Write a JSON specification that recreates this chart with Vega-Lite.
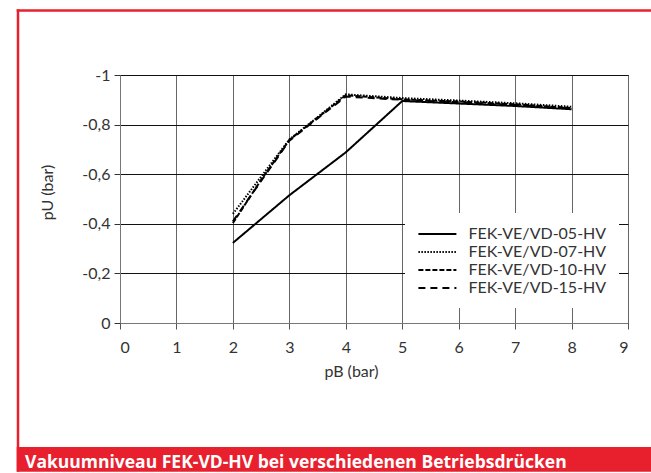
{
  "$schema": "https://vega.github.io/schema/vega-lite/v6.json",
  "width": 508,
  "height": 248,
  "autosize": {"type": "none"},
  "padding": {"left": 120, "top": 75, "right": 23, "bottom": 150},
  "background": "white",
  "config": {
    "locale": {"number": {"decimal": ",", "thousands": ".", "grouping": [3], "currency": ["", " €"], "minus": "-"}},
    "view": {"stroke": "#222", "strokeWidth": 1},
    "font": "Lato",
    "axis": {"labelFont": "Lato", "titleFont": "Lato", "labelFontSize": 16, "titleFontSize": 16, "labelColor": "#333", "titleColor": "#333", "titleFontWeight": "normal", "tickSize": 6},
    "legend": {"labelFont": "Lato"}
  },
  "datasets": {
    "curves": [
      {"series": "FEK-VE/VD-05-HV", "pB": 2, "pU": -0.323},
      {"series": "FEK-VE/VD-05-HV", "pB": 3, "pU": -0.515},
      {"series": "FEK-VE/VD-05-HV", "pB": 4, "pU": -0.688},
      {"series": "FEK-VE/VD-05-HV", "pB": 5, "pU": -0.895},
      {"series": "FEK-VE/VD-05-HV", "pB": 6, "pU": -0.885},
      {"series": "FEK-VE/VD-05-HV", "pB": 7, "pU": -0.875},
      {"series": "FEK-VE/VD-05-HV", "pB": 8, "pU": -0.862},
      {"series": "FEK-VE/VD-07-HV", "pB": 2, "pU": -0.44},
      {"series": "FEK-VE/VD-07-HV", "pB": 2.5, "pU": -0.59},
      {"series": "FEK-VE/VD-07-HV", "pB": 3, "pU": -0.74},
      {"series": "FEK-VE/VD-07-HV", "pB": 3.5, "pU": -0.83},
      {"series": "FEK-VE/VD-07-HV", "pB": 4, "pU": -0.922},
      {"series": "FEK-VE/VD-07-HV", "pB": 5, "pU": -0.907},
      {"series": "FEK-VE/VD-07-HV", "pB": 6, "pU": -0.897},
      {"series": "FEK-VE/VD-07-HV", "pB": 7, "pU": -0.886},
      {"series": "FEK-VE/VD-07-HV", "pB": 8, "pU": -0.872},
      {"series": "FEK-VE/VD-10-HV", "pB": 2, "pU": -0.403},
      {"series": "FEK-VE/VD-10-HV", "pB": 2.5, "pU": -0.577},
      {"series": "FEK-VE/VD-10-HV", "pB": 3, "pU": -0.738},
      {"series": "FEK-VE/VD-10-HV", "pB": 3.5, "pU": -0.828},
      {"series": "FEK-VE/VD-10-HV", "pB": 4, "pU": -0.918},
      {"series": "FEK-VE/VD-10-HV", "pB": 5, "pU": -0.902},
      {"series": "FEK-VE/VD-10-HV", "pB": 6, "pU": -0.893},
      {"series": "FEK-VE/VD-10-HV", "pB": 7, "pU": -0.882},
      {"series": "FEK-VE/VD-10-HV", "pB": 8, "pU": -0.867},
      {"series": "FEK-VE/VD-15-HV", "pB": 2, "pU": -0.41},
      {"series": "FEK-VE/VD-15-HV", "pB": 2.5, "pU": -0.573},
      {"series": "FEK-VE/VD-15-HV", "pB": 3, "pU": -0.735},
      {"series": "FEK-VE/VD-15-HV", "pB": 3.5, "pU": -0.825},
      {"series": "FEK-VE/VD-15-HV", "pB": 4, "pU": -0.913},
      {"series": "FEK-VE/VD-15-HV", "pB": 5, "pU": -0.9},
      {"series": "FEK-VE/VD-15-HV", "pB": 6, "pU": -0.89},
      {"series": "FEK-VE/VD-15-HV", "pB": 7, "pU": -0.879},
      {"series": "FEK-VE/VD-15-HV", "pB": 8, "pU": -0.865}
    ]
  },
  "layer": [
    {
      "data": {"name": "curves"},
      "mark": {"type": "line", "strokeWidth": 2, "color": "black", "clip": true},
      "encoding": {
        "x": {"field": "pB", "type": "quantitative", "scale": {"domain": [0, 9], "nice": false, "zero": false},
              "axis": {"values": [0,1,2,3,4,5,6,7,8,9], "format": "d", "title": "pB (bar)", "titleX": 231, "titleY": 40, "labelPadding": 10, "grid": true, "gridColor": "#666", "domainColor": "#777", "tickColor": "#555"}},
        "y": {"field": "pU", "type": "quantitative", "scale": {"domain": [0, -1], "nice": false, "zero": false},
              "axis": {"values": [0,-0.2,-0.4,-0.6,-0.8,-1], "format": ".1~f", "title": "pU (bar)", "titleX": -65, "titleY": 117, "labelPadding": 4, "grid": true, "gridColor": "#111", "domainColor": "#777", "tickColor": "#333"}},
        "strokeDash": {"field": "series", "type": "nominal",
          "scale": {"domain": ["FEK-VE/VD-05-HV", "FEK-VE/VD-07-HV", "FEK-VE/VD-10-HV", "FEK-VE/VD-15-HV"], "range": [[1,0],[1.5,1.5],[5,2],[7,5]]},
          "legend": {"title": null, "orient": "none", "legendX": 285, "legendY": 138, "fillColor": "white", "padding": 12, "symbolType": "M-2.5,0H2.5", "symbolSize": 231, "symbolOffset": 11.4, "symbolStrokeWidth": 2, "symbolStrokeColor": "black", "symbolFillColor": "transparent", "labelOffset": 22, "labelFontSize": 16, "labelColor": "#333", "rowPadding": 1}}
      }
    },
    {
      "data": {"values": [{}]},
      "mark": {"type": "rule", "stroke": "#e8202e", "strokeWidth": 2.5, "clip": false},
      "encoding": {
        "x": {"datum": -1.83}, "x2": {"datum": 9.41},
        "y": {"datum": -1.26}
      }
    },
    {
      "data": {"values": [{}]},
      "mark": {"type": "rule", "stroke": "#e8202e", "strokeWidth": 2.5, "clip": false},
      "encoding": {
        "x": {"datum": -1.807},
        "y": {"datum": -1.265}, "y2": {"datum": 0.6}
      }
    },
    {
      "data": {"values": [{}]},
      "mark": {"type": "rect", "fill": "#e8202e", "stroke": null, "clip": false},
      "encoding": {
        "x": {"datum": -1.83}, "x2": {"datum": 9.41},
        "y": {"datum": 0.5}, "y2": {"datum": 0.6}
      }
    },
    {
      "data": {"values": [{}]},
      "mark": {"type": "text", "text": "Vakuumniveau FEK-VD-HV bei verschiedenen Betriebsdrücken", "font": "Open Sans", "fontWeight": "bold", "fontSize": 17.5, "color": "white", "align": "left", "baseline": "alphabetic", "clip": false},
      "encoding": {
        "x": {"datum": -1.683},
        "y": {"datum": 0.585}
      }
    }
  ]
}
